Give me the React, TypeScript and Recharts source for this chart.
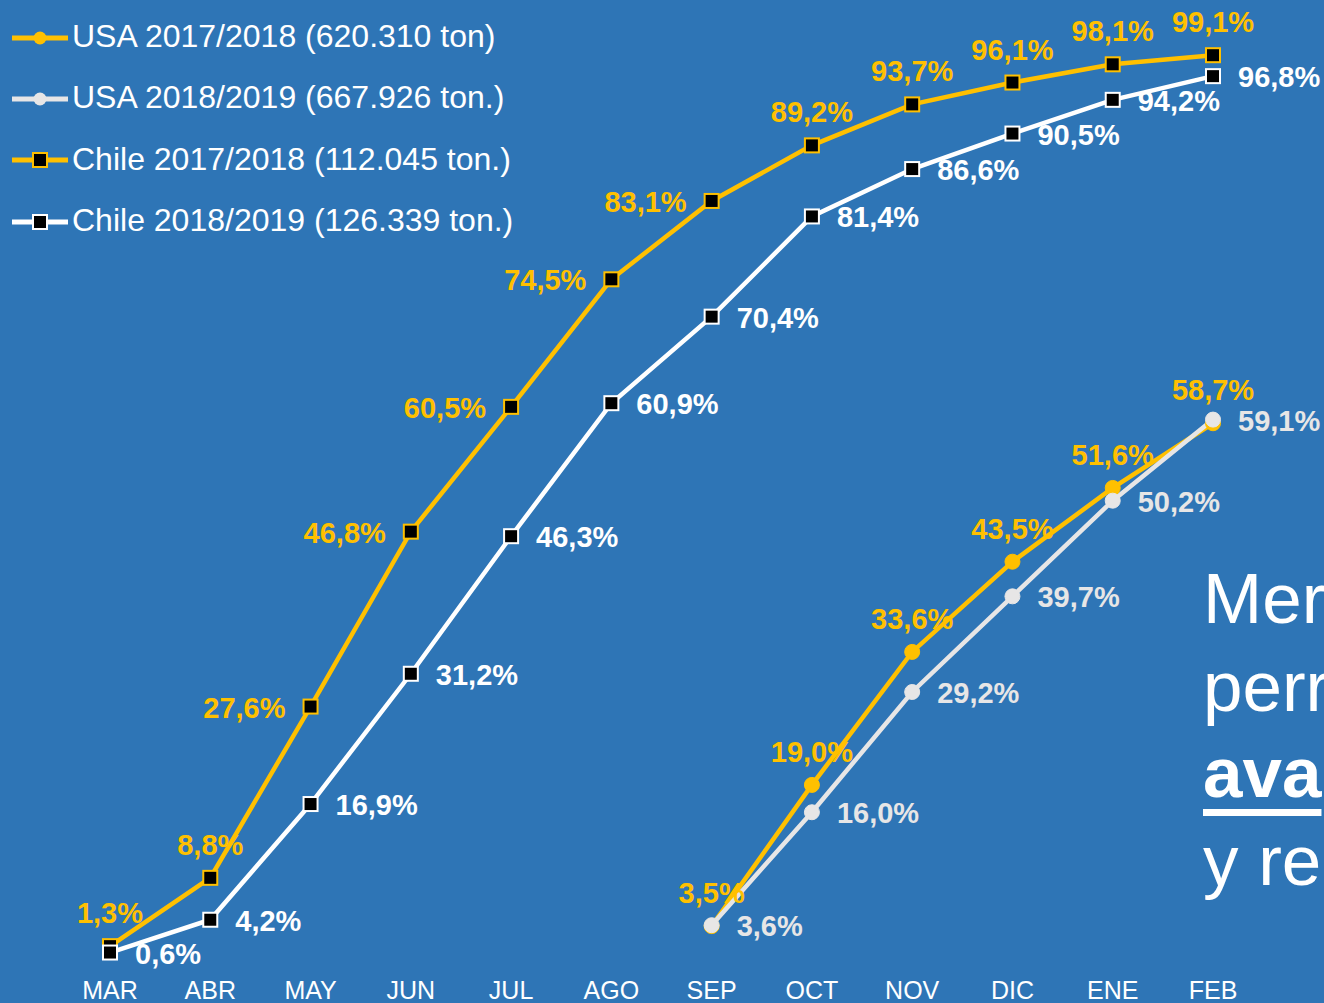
import React from 'react';
import { LineChart, Line, XAxis, YAxis, Legend, LabelList } from 'recharts';

// meses de la temporada (MAR -> FEB)
const months = ['MAR', 'ABR', 'MAY', 'JUN', 'JUL', 'AGO', 'SEP', 'OCT', 'NOV', 'DIC', 'ENE', 'FEB'];

// % acumulado Chile
const chile1718 = [1.3, 8.8, 27.6, 46.8, 60.5, 74.5, 83.1, 89.2, 93.7, 96.1, 98.1, 99.1];
const chile1819 = [0.6, 4.2, 16.9, 31.2, 46.3, 60.9, 70.4, 81.4, 86.6, 90.5, 94.2, 96.8];

// % acumulado USA (solo SEP -> FEB)
const usaMonths = ['SEP', 'OCT', 'NOV', 'DIC', 'ENE', 'FEB'];
const usa1718 = [3.5, 19.0, 33.6, 43.5, 51.6, 58.7];
const usa1819 = [3.6, 16.0, 29.2, 39.7, 50.2, 59.1];

const seriesNames = {
  usa1718: 'USA 2017/2018 (620.310 ton)',
  usa1819: 'USA 2018/2019 (667.926 ton.)',
  chile1718: 'Chile 2017/2018 (112.045 ton.)',
  chile1819: 'Chile 2018/2019 (126.339 ton.)',
};

const BG = '#2E75B6';
const YELLOW = '#FFC000';
const WHITE = '#FFFFFF';
const GREY = '#E7E6E6';
const FONT = '"Liberation Sans", Arial, sans-serif';

const data = months.map((m, i) => {
  const u = usaMonths.indexOf(m);
  return {
    month: m,
    usa1718: u >= 0 ? usa1718[u] : null,
    usa1819: u >= 0 ? usa1819[u] : null,
    chile1718: chile1718[i],
    chile1819: chile1819[i],
  };
});

type Place = 'top' | 'left' | 'right';

const series: {
  key: keyof typeof seriesNames;
  color: string;
  labelColor: string;
  marker: 'circle' | 'square';
  place: (i: number) => Place;
}[] = [
  { key: 'usa1718', color: YELLOW, labelColor: YELLOW, marker: 'circle', place: () => 'top' },
  { key: 'usa1819', color: GREY, labelColor: GREY, marker: 'circle', place: () => 'right' },
  {
    key: 'chile1718',
    color: YELLOW,
    labelColor: YELLOW,
    marker: 'square',
    place: (i) => (i >= 2 && i <= 6 ? 'left' : 'top'),
  },
  { key: 'chile1819', color: WHITE, labelColor: WHITE, marker: 'square', place: () => 'right' },
];

const fmt = (v: number) => v.toFixed(1).replace('.', ',') + '%';

function makeDot(color: string, marker: 'circle' | 'square') {
  return (props: any) => {
    const { cx, cy, index } = props;
    if (cx == null || cy == null || props.value == null) return <g key={index} />;
    if (marker === 'circle') {
      return <circle key={index} cx={cx} cy={cy} r={7.5} fill={color} stroke={color} strokeWidth={1} />;
    }
    return (
      <rect key={index} x={cx - 7} y={cy - 7} width={14} height={14} fill="#000" stroke={color} strokeWidth={2} />
    );
  };
}

function makeLabel(color: string, place: (i: number) => Place) {
  return (props: any) => {
    const { value, index } = props;
    const x = props.x ?? props.viewBox?.x;
    const y = props.y ?? props.viewBox?.y;
    if (value == null || x == null || y == null) return null;
    const p = place(index);
    const common = { fill: color, fontSize: 29, fontWeight: 700, fontFamily: FONT };
    if (p === 'top') {
      return (
        <text x={x} y={y - 23} textAnchor="middle" {...common}>
          {fmt(value)}
        </text>
      );
    }
    if (p === 'left') {
      return (
        <text x={x - 25} y={y + 11} textAnchor="end" {...common}>
          {fmt(value)}
        </text>
      );
    }
    return (
      <text x={x + 25} y={y + 11} textAnchor="start" {...common}>
        {fmt(value)}
      </text>
    );
  };
}

function MonthTick(props: any) {
  const { x, y, payload } = props;
  return (
    <text x={x} y={y + 41} textAnchor="middle" fill={WHITE} fontSize={25} fontFamily={FONT}>
      {payload.value}
    </text>
  );
}

function LegendBox() {
  return (
    <div style={{ fontFamily: FONT }}>
      {series.map((s) => (
        <div key={s.key} style={{ height: 61.3, display: 'flex', alignItems: 'center' }}>
          <svg width={72} height={20} style={{ flex: 'none' }}>
            <line x1={12} y1={11} x2={68} y2={11} stroke={s.color} strokeWidth={5} />
            {s.marker === 'circle' ? (
              <circle cx={40} cy={11} r={6.5} fill={s.color} />
            ) : (
              <rect x={33} y={4} width={14} height={14} fill="#000" stroke={s.color} strokeWidth={2} />
            )}
          </svg>
          <span style={{ color: WHITE, fontSize: 32, whiteSpace: 'nowrap' }}>{seriesNames[s.key]}</span>
        </div>
      ))}
    </div>
  );
}

const bigText: React.CSSProperties = {
  position: 'absolute',
  left: 1203,
  color: WHITE,
  fontFamily: FONT,
  fontSize: 71,
  lineHeight: '71px',
  whiteSpace: 'nowrap',
};

export default function App() {
  return (
    <div
      style={{
        position: 'fixed',
        left: 0,
        top: 0,
        width: 1324,
        height: 1003,
        overflow: 'hidden',
        background: BG,
      }}
    >
      <LineChart width={1324} height={1003} data={data} margin={{ top: 47, right: 111, bottom: 0, left: 110 }}>
        <XAxis
          dataKey="month"
          scale="point"
          padding={{ left: 0, right: 0 }}
          axisLine={false}
          tickLine={false}
          tickSize={0}
          tickMargin={0}
          interval={0}
          height={45}
          tick={<MonthTick />}
        />
        <YAxis hide domain={[0, 100]} />
        <Legend
          layout="vertical"
          align="center"
          verticalAlign="middle"
          wrapperStyle={{ top: 6, left: 0, width: 560 }}
          content={() => <LegendBox />}
        />
        {series.map((s) => (
          <Line
            key={s.key}
            dataKey={s.key}
            name={seriesNames[s.key]}
            stroke={s.color}
            strokeWidth={4.5}
            dot={makeDot(s.color, s.marker)}
            activeDot={false}
            isAnimationActive={false}
          >
            <LabelList dataKey={s.key} content={makeLabel(s.labelColor, s.place)} />
          </Line>
        ))}
      </LineChart>
      <div style={{ ...bigText, top: 563 }}>Mer</div>
      <div style={{ ...bigText, top: 651 }}>perr</div>
      <div
        style={{
          ...bigText,
          top: 737,
          fontWeight: 700,
          textDecoration: 'underline',
          textDecorationThickness: 7,
          textUnderlineOffset: 12,
        }}
      >
        ava
      </div>
      <div style={{ ...bigText, top: 825 }}>y re</div>
    </div>
  );
}
